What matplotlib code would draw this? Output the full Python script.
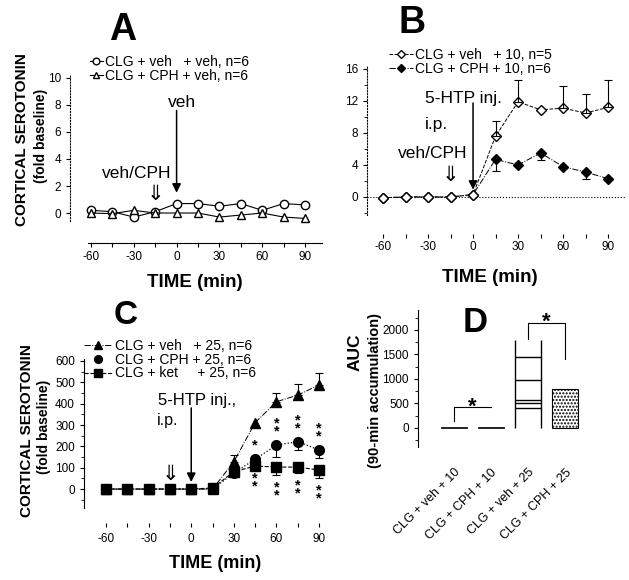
import numpy as np
import matplotlib
matplotlib.use("Agg")
import matplotlib.pyplot as plt

plt.rcParams['font.family'] = ['Liberation Sans', 'DejaVu Sans']
plt.rcParams['xtick.major.size'] = 3
plt.rcParams['ytick.major.size'] = 3
plt.rcParams['ytick.minor.size'] = 2
plt.rcParams['xtick.major.width'] = 0.8
plt.rcParams['ytick.major.width'] = 0.8
plt.rcParams['xtick.labelsize'] = 8.5
plt.rcParams['ytick.labelsize'] = 8.5

W, H = 629, 580

# ---- data
time_min = [-60, -45, -30, -15, 0, 15, 30, 45, 60, 75, 90]
time_labels = ['-60', '', '-30', '', '0', '', '30', '', '60', '', '90']

# A: CLG + veh/CPH + veh
a_veh_veh = [0.2, 0.1, -0.3, 0.1, 0.7, 0.7, 0.5, 0.7, 0.2, 0.7, 0.6]
a_cph_veh = [0.0, -0.05, 0.2, 0.0, 0.0, 0.0, -0.3, -0.15, 0.0, -0.3, -0.4]

# B: + 10 mg/kg 5-HTP
b_veh_10 = [-0.1, 0.0, 0.0, 0.0, 0.3, 7.6, 11.9, 10.9, 11.1, 10.5, 11.2]
b_veh_10_err = [0, 0, 0, 0, 0, 1.9, 2.7, 0, 2.8, 2.4, 3.4]
b_cph_10 = [-0.1, 0.0, 0.0, 0.0, 0.3, 4.7, 4.0, 5.5, 3.8, 3.1, 2.3]
b_cph_10_err = [0, 0, 0, 0, 0, 1.5, 0, 0.9, 0, 0.8, 0]

# C: + 25 mg/kg 5-HTP
c_veh_25 = [0, 0, 0, 0, 0, 0, 128, 311, 409, 440, 488]
c_veh_25_err = [0, 0, 0, 0, 0, 0, 32, 0, 42, 52, 57]
c_cph_25 = [0, 0, 0, 0, 0, 0, 75, 140, 206, 222, 183]
c_cph_25_err = [0, 0, 0, 0, 0, 0, 0, 0, 56, 39, 38]
c_ket_25 = [0, 0, 0, 0, 0, 5, 81, 108, 103, 103, 89]
c_ket_25_err = [0, 0, 0, 0, 0, 0, 0, 0, 37, 30, 37]
c_stars_cph = [0, 0, 0, 0, 0, 0, 0, 1, 2, 2, 2]
c_stars_ket = [0, 0, 0, 0, 0, 0, 0, 2, 2, 2, 2]

# D: AUC
d_groups = ['CLG + veh + 10', 'CLG + CPH + 10', 'CLG + veh + 25', 'CLG + CPH + 25']
d_auc = [30, 30, 1800, 800]
d_veh25_lines = [1450, 980, 570, 510, 410]


fig = plt.figure(figsize=(W / 100, H / 100), dpi=100)


def px_axes(l, t, r, b):
    return fig.add_axes([l / W, 1 - b / H, (r - l) / W, (b - t) / H])


def ftext(x, y, s, **kw):
    fig.text(x / W, 1 - y / H, s, **kw)


def err_bars(ax, x, y, err, up=True):
    x, y, err = np.asarray(x), np.asarray(y), np.asarray(err, float)
    m = err > 0
    z = np.zeros(m.sum())
    yerr = [z, err[m]] if up else [err[m], z]
    ax.errorbar(x[m], y[m], yerr=yerr, fmt='none', ecolor='k',
                elinewidth=0.8, capsize=3, capthick=0.8)


def down_arrow(ax, x, y0, y1):
    ax.annotate('', xy=(x, y1), xytext=(x, y0),
                arrowprops=dict(arrowstyle='-|>', color='k', lw=1.1,
                                mutation_scale=13, shrinkA=0, shrinkB=0))


def time_axis(ax):
    ax.set_xticks(time_min)
    ax.set_xticklabels(time_labels)
    ax.spines['top'].set_visible(False)
    ax.spines['right'].set_visible(False)


def px_legend(ax, handles, labels, x, y, hl):
    ax.legend(handles, labels, loc='upper left', bbox_to_anchor=(x / W, 1 - y / H),
              bbox_transform=fig.transFigure, frameon=False, fontsize=10,
              handlelength=hl, handletextpad=0.2, labelspacing=-0.02,
              borderpad=0, borderaxespad=0, markerscale=0.8)


########## Panel A
axA = px_axes(70, 70, 322, 243)
axA.set_xlim(-74.7, 101.9)
axA.set_ylim(-2.22, 10.59)
axA.plot(time_min, a_veh_veh, '-', color='k', lw=0.8, marker='o', ms=6,
         mfc='white', mec='k', label='CLG + veh   + veh, n=6')
axA.plot(time_min, a_cph_veh, '-', color='k', lw=0.8, marker='^', ms=6,
         mfc='white', mec='k', label='CLG + CPH + veh, n=6')
time_axis(axA)
axA.spines['left'].set_linestyle(':')
axA.spines['left'].set_bounds(-0.6, 10.3)
axA.spines['bottom'].set_bounds(-62, 101.9)
axA.set_yticks([0, 2, 4, 6, 8, 10])
axA.tick_params(axis='x', pad=3)
down_arrow(axA, 0, 7.6, 1.5)
axA.text(4, 8.2, 'veh', ha='center', va='center', fontsize=12.5)
axA.text(-27.8, 2.9, 'veh/CPH', ha='center', va='center', fontsize=12.5)
axA.text(-15, 1.4, '⇓', ha='center', va='center', fontsize=15, family='DejaVu Sans')
hA, lA = axA.get_legend_handles_labels()
px_legend(axA, hA, lA, 90, 55, 0.9)

########## Panel B
axB = px_axes(367, 59.4, 625, 234)
axB.set_xlim(-70.7, 101.3)
axB.set_ylim(-4.63, 17.2)
axB.axhline(0, color='k', lw=0.8, ls=':')
axB.plot(time_min, b_cph_10, '-.', color='k', lw=0.7, marker='D', ms=5.5,
         mfc='k', mec='k', label='CLG + CPH + 10, n=6')
err_bars(axB, time_min, b_cph_10, b_cph_10_err, up=False)
axB.plot(time_min, b_veh_10, '--', color='k', lw=0.7, marker='D', ms=5.5,
         mfc='white', mec='k', label='CLG + veh   + 10, n=5')
err_bars(axB, time_min, b_veh_10, b_veh_10_err, up=True)
time_axis(axB)
axB.spines['bottom'].set_visible(False)
axB.spines['left'].set_linestyle(':')
axB.spines['left'].set_bounds(-2.3, 16.5)
axB.set_yticks([0, 4, 8, 12, 16])
axB.set_yticks([-2, 2, 6, 10, 14], minor=True)
axB.tick_params(axis='x', pad=2)
down_arrow(axB, 0, 11.75, 0.9)
axB.text(-32, 12.25, '5-HTP inj.', ha='left', va='center', fontsize=12.5)
axB.text(-32, 9.1, 'i.p.', ha='left', va='center', fontsize=12.5)
axB.text(-27, 5.4, 'veh/CPH', ha='center', va='center', fontsize=12.5)
axB.text(-15, 2.75, '⇓', ha='center', va='center', fontsize=15, family='DejaVu Sans')
hB, lB = axB.get_legend_handles_labels()
px_legend(axB, hB[::-1], lB[::-1], 389, 48, 1.7)

########## Panel C
axC = px_axes(84, 355, 330, 523)
axC.set_xlim(-75.5, 97.7)
axC.set_ylim(-159, 628)
axC.plot(time_min, c_veh_25, '-.', color='k', lw=0.7, marker='^', ms=7,
         mfc='k', mec='k', label='CLG + veh   + 25, n=6')
err_bars(axC, time_min, c_veh_25, c_veh_25_err, up=True)
axC.plot(time_min, c_cph_25, ':', color='k', lw=0.9)
axC.plot(time_min, c_cph_25, 'o', ms=7, mfc='k', mec='k', label='CLG + CPH + 25, n=6')
err_bars(axC, time_min, c_cph_25, c_cph_25_err, up=False)
axC.plot(time_min, c_ket_25, '--', color='k', lw=0.8, marker='s', ms=7,
         mfc='k', mec='k', label='CLG + ket     + 25, n=6')
err_bars(axC, time_min, c_ket_25, c_ket_25_err, up=False)
for t, v, e, n in zip(time_min, c_cph_25, c_cph_25_err, c_stars_cph):
    if n:
        axC.text(t, v + 30, '*\n' * (n - 1) + '*', ha='center', va='bottom',
                 fontsize=10.5, linespacing=0.45, fontweight='bold')
for t, v, e, n in zip(time_min, c_ket_25, c_ket_25_err, c_stars_ket):
    if n:
        axC.text(t, v - e - 25, '*\n' * (n - 1) + '*', ha='center', va='top',
                 fontsize=10.5, linespacing=0.45, fontweight='bold')
time_axis(axC)
axC.spines['bottom'].set_visible(False)
axC.spines['left'].set_bounds(-90, 610)
axC.set_yticks(np.arange(0, 601, 100))
axC.set_yticks(np.arange(-50, 601, 100), minor=True)
axC.tick_params(axis='x', pad=4)
down_arrow(axC, 0, 380, 33)
axC.text(-23.4, 417, '5-HTP inj.,', ha='left', va='center', fontsize=12)
axC.text(-24, 319, 'i.p.', ha='left', va='center', fontsize=11.5)
axC.text(-15, 70, '⇓', ha='center', va='center', fontsize=15, family='DejaVu Sans')
hC, lC = axC.get_legend_handles_labels()
px_legend(axC, hC, lC, 84, 339, 2.0)

########## Panel D
axD = px_axes(418, 310, 591, 447)
axD.set_xlim(-0.973, 3.70)
axD.set_ylim(-388, 2408)
xd = np.arange(len(d_groups))
bw = 0.68
axD.bar(xd[0], d_auc[0], bw, color='white', edgecolor='k', lw=0.6)
axD.bar(xd[1], d_auc[1], bw, color='white', edgecolor='k', lw=0.6, hatch='.....')
b3 = axD.bar(xd[2], d_auc[2], bw, color='white', lw=0)[0]
axD.vlines([b3.get_x(), b3.get_x() + bw], 0, d_auc[2], color='k', lw=1.0)
axD.hlines(d_veh25_lines, b3.get_x(), b3.get_x() + bw, color='k', lw=1.0)
axD.bar(xd[3], d_auc[3], bw, color='white', edgecolor='k', lw=0.8, hatch='.....')
# significance brackets
axD.plot([0, 0, 1], [140, 430, 430], color='k', lw=0.8)
axD.text(0.5, 430, '*', ha='center', va='center', fontsize=16, fontweight='bold')
axD.plot([2, 2, 3, 3], [1810, 2150, 2150, 1410], color='k', lw=0.8)
axD.text(2.5, 2150, '*', ha='center', va='center', fontsize=16, fontweight='bold')
axD.set_xticks(xd)
axD.set_xticklabels(d_groups, rotation=45, ha='right', rotation_mode='anchor', fontsize=9)
axD.tick_params(axis='x', length=0, pad=14)
axD.set_yticks([0, 500, 1000, 1500, 2000])
axD.set_yticks(np.arange(-250, 2401, 500), minor=True)
for s in ['top', 'right', 'bottom']:
    axD.spines[s].set_visible(False)

########## Titles and axis labels
for s, x, y, fs in [('A', 123, 30, 27), ('B', 412, 23, 27), ('C', 126, 316, 24), ('D', 475, 322, 25)]:
    ftext(x, y, s, ha='center', va='center', fontsize=fs, fontweight='bold')
ftext(195, 283, 'TIME (min)', ha='center', va='center', fontsize=13.5, fontweight='bold')
ftext(490, 277, 'TIME (min)', ha='center', va='center', fontsize=13.5, fontweight='bold')
ftext(215, 563, 'TIME (min)', ha='center', va='center', fontsize=13, fontweight='bold')
ftext(22, 140, 'CORTICAL SEROTONIN', rotation=90, ha='center', va='center', fontsize=11, fontweight='bold')
ftext(41, 136, '(fold baseline)', rotation=90, ha='center', va='center', fontsize=10, fontweight='bold')
ftext(27, 431, 'CORTICAL SEROTONIN', rotation=90, ha='center', va='center', fontsize=11, fontweight='bold')
ftext(44, 427, '(fold baseline)', rotation=90, ha='center', va='center', fontsize=10, fontweight='bold')
ftext(355, 352, 'AUC', rotation=90, ha='center', va='center', fontsize=12.5, fontweight='bold')
ftext(375, 390, '(90-min accumulation)', rotation=90, ha='center', va='center', fontsize=10.5, fontweight='bold')

fig.savefig('out.png', dpi=100)
